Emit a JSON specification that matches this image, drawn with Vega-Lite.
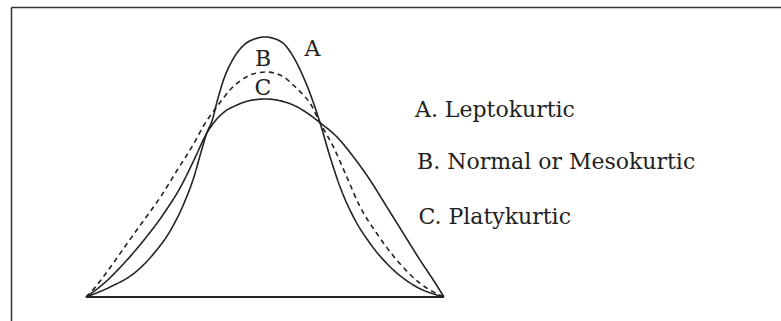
{
  "$schema": "https://vega.github.io/schema/vega-lite/v6.json",
  "width": 770,
  "height": 314,
  "autosize": {"type": "none"},
  "padding": {"left": 11, "top": 7, "right": 0, "bottom": 0},
  "background": "white",
  "config": {"view": {"stroke": null}},
  "datasets": {
    "curves": [
      {"curve": "A", "x": 86, "y": 0},
      {"curve": "A", "x": 110.7, "y": 10.3},
      {"curve": "A", "x": 134, "y": 23.7},
      {"curve": "A", "x": 154, "y": 43.7},
      {"curve": "A", "x": 170.7, "y": 67},
      {"curve": "A", "x": 184, "y": 93.7},
      {"curve": "A", "x": 194, "y": 120.3},
      {"curve": "A", "x": 200.7, "y": 143.7},
      {"curve": "A", "x": 206.7, "y": 163.7},
      {"curve": "A", "x": 212.3, "y": 177},
      {"curve": "A", "x": 217.5, "y": 197},
      {"curve": "A", "x": 223.5, "y": 217},
      {"curve": "A", "x": 232.5, "y": 237},
      {"curve": "A", "x": 244, "y": 252},
      {"curve": "A", "x": 256, "y": 258.5},
      {"curve": "A", "x": 265, "y": 260},
      {"curve": "A", "x": 274, "y": 258.5},
      {"curve": "A", "x": 285, "y": 252},
      {"curve": "A", "x": 293.3, "y": 240.3},
      {"curve": "A", "x": 301.7, "y": 223.7},
      {"curve": "A", "x": 310, "y": 203.7},
      {"curve": "A", "x": 320, "y": 174.3},
      {"curve": "A", "x": 330, "y": 140.3},
      {"curve": "A", "x": 340, "y": 110.3},
      {"curve": "A", "x": 353.3, "y": 80.3},
      {"curve": "A", "x": 370, "y": 53.7},
      {"curve": "A", "x": 390, "y": 30.3},
      {"curve": "A", "x": 413.3, "y": 12},
      {"curve": "A", "x": 444, "y": 0},
      {"curve": "B", "x": 86, "y": 0},
      {"curve": "B", "x": 95.7, "y": 10.3},
      {"curve": "B", "x": 110.7, "y": 30.3},
      {"curve": "B", "x": 127.3, "y": 53.7},
      {"curve": "B", "x": 144, "y": 77},
      {"curve": "B", "x": 160.7, "y": 100.3},
      {"curve": "B", "x": 177.3, "y": 127},
      {"curve": "B", "x": 194, "y": 153.7},
      {"curve": "B", "x": 204, "y": 172},
      {"curve": "B", "x": 213, "y": 185},
      {"curve": "B", "x": 222, "y": 197},
      {"curve": "B", "x": 230, "y": 207},
      {"curve": "B", "x": 240, "y": 216},
      {"curve": "B", "x": 253, "y": 223},
      {"curve": "B", "x": 266, "y": 225},
      {"curve": "B", "x": 283.3, "y": 220.3},
      {"curve": "B", "x": 293.3, "y": 212},
      {"curve": "B", "x": 301.7, "y": 203.7},
      {"curve": "B", "x": 310, "y": 194},
      {"curve": "B", "x": 320, "y": 174.3},
      {"curve": "B", "x": 333.3, "y": 150.3},
      {"curve": "B", "x": 346.7, "y": 120.3},
      {"curve": "B", "x": 360, "y": 90.3},
      {"curve": "B", "x": 376.7, "y": 63.7},
      {"curve": "B", "x": 396.7, "y": 37},
      {"curve": "B", "x": 420, "y": 13.7},
      {"curve": "B", "x": 444, "y": 0},
      {"curve": "C", "x": 86, "y": 0},
      {"curve": "C", "x": 104, "y": 13.7},
      {"curve": "C", "x": 124, "y": 33.7},
      {"curve": "C", "x": 144, "y": 57},
      {"curve": "C", "x": 164, "y": 83.7},
      {"curve": "C", "x": 180.7, "y": 110.3},
      {"curve": "C", "x": 194, "y": 137},
      {"curve": "C", "x": 206.7, "y": 163.7},
      {"curve": "C", "x": 213.3, "y": 173.7},
      {"curve": "C", "x": 223, "y": 184},
      {"curve": "C", "x": 237, "y": 192},
      {"curve": "C", "x": 253, "y": 197},
      {"curve": "C", "x": 266, "y": 198},
      {"curve": "C", "x": 280, "y": 196.3},
      {"curve": "C", "x": 296.7, "y": 190.3},
      {"curve": "C", "x": 310, "y": 182},
      {"curve": "C", "x": 320, "y": 174.3},
      {"curve": "C", "x": 336.7, "y": 160.3},
      {"curve": "C", "x": 353.3, "y": 140.3},
      {"curve": "C", "x": 370, "y": 117},
      {"curve": "C", "x": 386.7, "y": 90.3},
      {"curve": "C", "x": 403.3, "y": 63.7},
      {"curve": "C", "x": 420, "y": 37},
      {"curve": "C", "x": 433.3, "y": 17},
      {"curve": "C", "x": 444, "y": 0}
    ],
    "labels": [
      {"text": "A", "x": 312.5, "y": 241},
      {"text": "B", "x": 263, "y": 231.5},
      {"text": "C", "x": 263, "y": 202.5}
    ],
    "legend": [
      {"text": "A. Leptokurtic", "x": 415, "y": 180},
      {"text": "B. Normal or Mesokurtic", "x": 417, "y": 128.5},
      {"text": "C. Platykurtic", "x": 418.5, "y": 73}
    ]
  },
  "layer": [
    {
      "data": {"name": "curves"},
      "mark": {"type": "line", "interpolate": "monotone", "stroke": "#222", "strokeWidth": 1.6},
      "encoding": {
        "x": {
          "field": "x", "type": "quantitative",
          "scale": {"domain": [11, 781], "nice": false, "zero": false},
          "axis": {"orient": "top", "labels": false, "ticks": false, "grid": false, "title": null, "domainColor": "#333", "domainWidth": 1.5}
        },
        "y": {
          "field": "y", "type": "quantitative",
          "scale": {"domain": [-24, 290], "nice": false, "zero": false},
          "axis": {"orient": "left", "labels": false, "ticks": false, "grid": false, "title": null, "domainColor": "#333", "domainWidth": 1.5}
        },
        "detail": {"field": "curve"},
        "strokeDash": {
          "field": "curve", "type": "nominal",
          "scale": {"domain": ["A", "B", "C"], "range": [[1, 0], [5, 4], [1, 0]]},
          "legend": null
        }
      }
    },
    {
      "data": {"name": "curves"},
      "mark": {"type": "rule", "stroke": "#222", "strokeWidth": 2},
      "encoding": {
        "x": {"aggregate": "min", "field": "x", "type": "quantitative"},
        "x2": {"aggregate": "max", "field": "x"},
        "y": {"datum": 0}
      }
    },
    {
      "data": {"name": "labels"},
      "mark": {"type": "text", "font": "DejaVu Serif", "fontSize": 22, "fill": "#222", "align": "center", "baseline": "alphabetic"},
      "encoding": {
        "x": {"field": "x", "type": "quantitative"},
        "y": {"field": "y", "type": "quantitative"},
        "text": {"field": "text"}
      }
    },
    {
      "data": {"name": "legend"},
      "mark": {"type": "text", "font": "DejaVu Serif", "fontSize": 22, "fill": "#222", "align": "left", "baseline": "alphabetic"},
      "encoding": {
        "x": {"field": "x", "type": "quantitative"},
        "y": {"field": "y", "type": "quantitative"},
        "text": {"field": "text"}
      }
    }
  ]
}
